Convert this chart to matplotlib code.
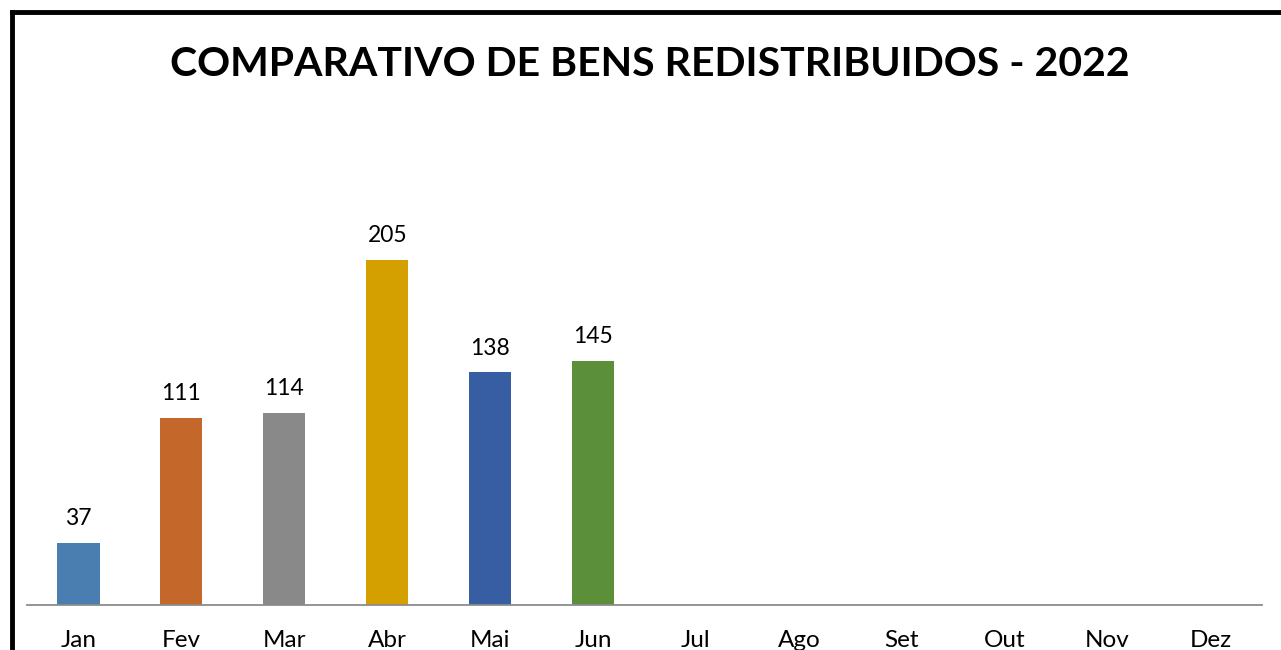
import numpy as np
import matplotlib
matplotlib.use("Agg")
import matplotlib.pyplot as plt
from matplotlib.lines import Line2D

months = ["Jan", "Fev", "Mar", "Abr", "Mai", "Jun",
          "Jul", "Ago", "Set", "Out", "Nov", "Dez"]
values = [37, 111, 114, 205, 138, 145,
          np.nan, np.nan, np.nan, np.nan, np.nan, np.nan]
colors = ["#4a7eb0", "#c4672a", "#898989", "#d4a000", "#375ea3", "#5b8f3a",
          "#4a7eb0", "#c4672a", "#898989", "#d4a000", "#375ea3", "#5b8f3a"]
title = "COMPARATIVO DE BENS REDISTRIBUIDOS - 2022"

plt.rcParams["font.family"] = ["Lato", "DejaVu Sans"]

W, H = 1281, 650
fig = plt.figure(figsize=(W / 100, H / 100), dpi=100)
fig.patch.set_facecolor("white")

ax = fig.add_axes([27 / W, 45 / H, (1262 - 27) / W, (605 - 150) / H])
x = np.arange(len(months))
bars = ax.bar(x, values, width=0.41, color=colors)

for xi, v in zip(x, values):
    if not np.isnan(v):
        ax.annotate(f"{int(v)}", (xi, v), xytext=(0, 10), textcoords="offset points",
                    ha="center", va="bottom", fontsize=16.5, color="black")

ax.set_xlim(-0.5, len(months) - 0.5)
ax.set_ylim(0, 270)
ax.set_xticks(x)
ax.set_xticklabels(months, fontsize=17.5)
ax.tick_params(axis="x", length=0, pad=18)
ax.set_yticks([])
for s in ["top", "right", "left"]:
    ax.spines[s].set_visible(False)
ax.spines["bottom"].set_color("#8c8c8c")
ax.spines["bottom"].set_linewidth(1.3)

fig.text(650 / W, 1 - 65 / H, title, ha="center", va="center",
         fontsize=29.5, fontweight="bold", color="black")

# frame around the chart area (left and top edges)
fig.add_artist(Line2D([11.5 / W, 11.5 / W], [0, 1 - 11.5 / H], transform=fig.transFigure,
                      color="black", linewidth=3.5, solid_capstyle="projecting"))
fig.add_artist(Line2D([11.5 / W, 1], [1 - 11.5 / H, 1 - 11.5 / H], transform=fig.transFigure,
                      color="black", linewidth=3.5, solid_capstyle="projecting"))

fig.savefig("out.png", dpi=100)
